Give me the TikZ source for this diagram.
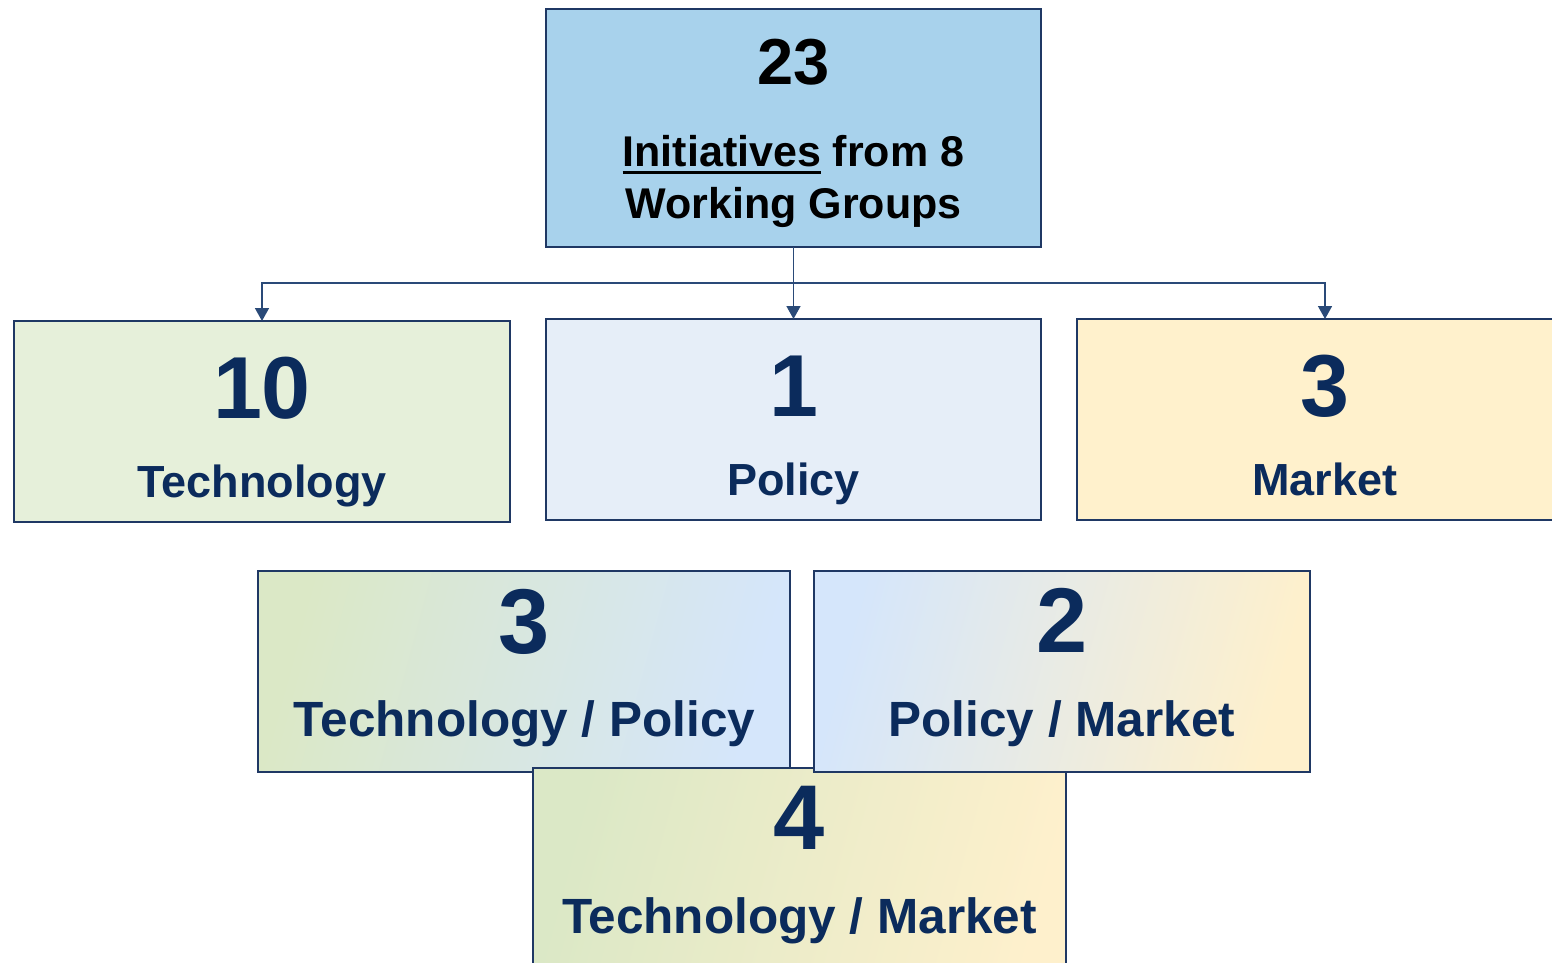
\documentclass[tikz,border=0pt]{standalone}
\usepackage{fontspec}
\setmainfont{Liberation Sans}
\usetikzlibrary{arrows.meta}
\definecolor{navy}{HTML}{0B2B5C}
\definecolor{edgec}{HTML}{1F3864}
\definecolor{connc}{HTML}{2A4A78}
\definecolor{topfill}{HTML}{A8D2EC}
\definecolor{techfill}{HTML}{E6F0DA}
\definecolor{polfill}{HTML}{E6EEF8}
\definecolor{mktfill}{HTML}{FFF1CC}
\definecolor{ggreen}{HTML}{DBE8C6}
\definecolor{gblue}{HTML}{D5E6FB}
\definecolor{gyellow}{HTML}{FEF0CC}
\newcommand\myul[1]{\setbox0\hbox{#1}\rlap{\rule[-8pt]{\wd0}{3pt}}\box0\relax}
\begin{document}
\begin{tikzpicture}[x=1pt,y=-1pt,
  box/.style={draw=edgec, line width=2pt, rectangle, anchor=north west, inner sep=0pt, outer sep=0pt},
  topnum/.style={anchor=base, inner sep=0pt, text=black, font=\fontsize{65}{65}\selectfont\bfseries},
  toptxt/.style={anchor=base, inner sep=0pt, text=black, font=\fontsize{43}{43}\selectfont\bfseries},
  numA/.style={anchor=base, inner sep=0pt, text=navy, font=\fontsize{88}{88}\selectfont\bfseries},
  txtA/.style={anchor=base, inner sep=0pt, text=navy, font=\fontsize{45}{45}\selectfont\bfseries},
  numB/.style={anchor=base, inner sep=0pt, text=navy, font=\fontsize{92}{92}\selectfont\bfseries},
  txtB/.style={anchor=base, inner sep=0pt, text=navy, font=\fontsize{49.5}{49.5}\selectfont\bfseries},
  conn/.style={draw=connc, line width=1.6pt, -{Triangle[width=14pt,length=13pt]}}]
\clip (0,0) rectangle (1552,963);
\fill[white] (0,0) rectangle (1552,963);

% top box
\node[box, fill=topfill, minimum width=495pt, minimum height=238pt] (top) at (546,9) {};
\node[topnum] (topn) at (793.5,85) {23};
\node[toptxt] (topa) at (793.5,166) {\myul{Initiatives} from 8};
\node[toptxt] (topb) at (793.5,218) {Working Groups};

% row 1
\node[box, fill=techfill, minimum width=496pt, minimum height=201pt] (tech) at (14,321) {};
\node[box, fill=polfill, minimum width=495pt, minimum height=201pt] (pol) at (546,319) {};
\node[box, fill=mktfill, minimum width=496pt, minimum height=201pt] (mkt) at (1077,319) {};
\node[numA] (techn) at (262,418) {10};
\node[txtA] (techt) at (262,497) {Technology};
\node[numA] (poln) at (793.5,416) {1};
\node[txtA] (polt) at (793.5,495) {Policy};
\node[numA] (mktn) at (1325,416) {3};
\node[txtA] (mktt) at (1325,495) {Market};

% row 2
\node[box, left color=ggreen, right color=gblue, shading angle=75, minimum width=532pt, minimum height=201pt] (tp) at (258,571) {};
\node[numB] (tpn) at (524.5,653) {3};
\node[txtB] (tpt) at (524.5,736) {Technology / Policy};

\node[box, left color=ggreen, right color=gyellow, shading angle=75, minimum width=533pt, minimum height=260pt] (tm) at (533,768) {};
\node[numB] (tmn) at (799.5,849) {4};
\node[txtB] (tmt) at (799.5,933) {Technology / Market};

\node[box, left color=gblue, right color=gyellow, shading angle=75, minimum width=496pt, minimum height=201pt] (pm) at (814,571) {};
\node[numB] (pmn) at (1062,652) {2};
\node[txtB] (pmt) at (1062,736) {Policy / Market};

% connectors
\coordinate (split) at (793.5,283);
\draw[conn] (top.south) -- (pol.north);
\draw[conn] (split) -| (tech.north);
\draw[conn] (split) -| (mkt.north);
\end{tikzpicture}
\end{document}
